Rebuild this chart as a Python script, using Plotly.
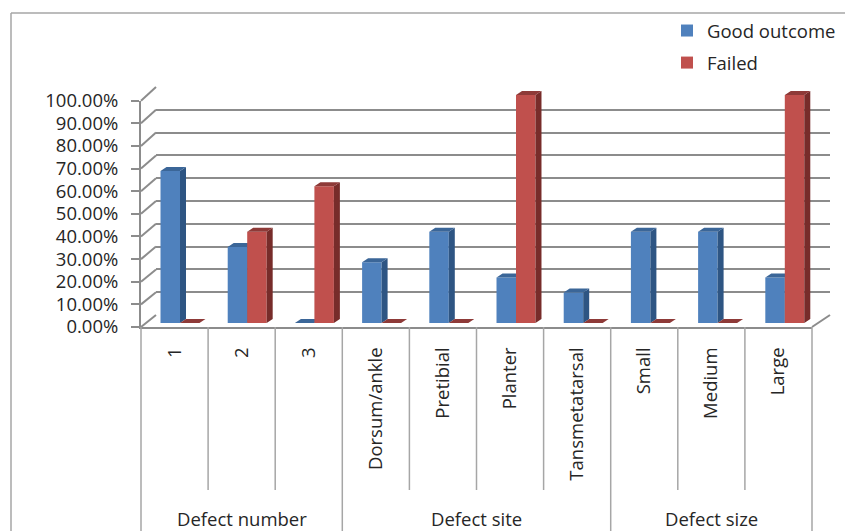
import plotly.graph_objects as go

W, H = 845, 531

# ---- data ----
categories = ["1", "2", "3", "Dorsum/ankle", "Pretibial", "Planter",
              "Tansmetatarsal", "Small", "Medium", "Large"]
group_names = ["Defect number", "Defect site", "Defect size"]
group_sizes = [3, 4, 3]
good_outcome = [66.67, 33.33, 0.0, 26.67, 40.0, 20.0, 13.33, 40.0, 40.0, 20.0]
failed = [0.0, 40.0, 60.0, 0.0, 0.0, 100.0, 0.0, 0.0, 0.0, 100.0]
y_ticks = list(range(0, 101, 10))

# ---- colours ----
BLUE, BLUE_SIDE, BLUE_TOP = "#4F81BD", "#2E5583", "#3B6698"
RED, RED_SIDE, RED_TOP = "#C0504D", "#772C2A", "#8E3A38"
GRID = "#8C8C8C"
FRAME = "#A6A6A6"
TEXT = "#262626"
FONT = "Open Sans"
FS = 18.5


def px(x):
    return x / W


def py(y):
    return 1 - y / H


n = len(categories)

# front plane (axis labels, floor edge): pixels
FX0, FX1 = 141, 812
FY0, FY100 = 327, 100.7
# back wall (gridlines)
BX0, BX1 = 156, 830
BY0, BY100 = 315, 87
# bar plane
BAR_CAT_PX = 67.2
BAR_X0 = 180 - 0.5 * BAR_CAT_PX
BAR_PX_PER = 2.28
BAR_ZERO = 323
Y2_RANGE = [-8, 110]

BW = 0.29                      # bar width in category units
DX = 6 / BAR_CAT_PX            # depth of bar side face (x units)
DY = 4 / BAR_PX_PER            # depth of bar top face (value units)


def box_faces(values, left_offset):
    side_x, side_y, top_x, top_y = [], [], [], []
    for i, v in enumerate(values):
        xl = i + left_offset
        xr = xl + BW
        side_x += [xr, xr + DX, xr + DX, xr, xr, None]
        side_y += [0, DY, v + DY, v, 0, None]
        top_x += [xl, xl + DX, xr + DX, xr, xl, None]
        top_y += [v, v + DY, v + DY, v, v, None]
    return side_x, side_y, top_x, top_y


fig = go.Figure()

# back wall gridlines live on the base subplot
fig.add_trace(go.Scatter(x=[0], y=[0], mode="markers", marker=dict(opacity=0),
                         hoverinfo="skip", showlegend=False, xaxis="x", yaxis="y"))

# Good outcome boxes
fig.add_trace(go.Bar(x=list(range(n)), y=good_outcome, name="Good outcome",
                     width=BW, offset=-BW, marker=dict(color=BLUE, line=dict(width=0)),
                     xaxis="x2", yaxis="y2", legendgroup="g", legendrank=1))
sx, sy, tx, ty = box_faces(good_outcome, -BW)
fig.add_trace(go.Scatter(x=sx, y=sy, fill="toself", fillcolor=BLUE_SIDE, mode="lines",
                         line=dict(width=0, color=BLUE_SIDE), hoverinfo="skip",
                         showlegend=False, xaxis="x2", yaxis="y2"))
fig.add_trace(go.Scatter(x=tx, y=ty, fill="toself", fillcolor=BLUE_TOP, mode="lines",
                         line=dict(width=0, color=BLUE_TOP), hoverinfo="skip",
                         showlegend=False, xaxis="x2", yaxis="y2"))

# Failed boxes (overlay subplot so they sit in front of the blue ones)
fig.add_trace(go.Bar(x=list(range(n)), y=failed, name="Failed",
                     width=BW, offset=0, marker=dict(color=RED, line=dict(width=0)),
                     xaxis="x4", yaxis="y4", legendgroup="f", legendrank=2))
sx, sy, tx, ty = box_faces(failed, 0)
fig.add_trace(go.Scatter(x=sx, y=sy, fill="toself", fillcolor=RED_SIDE, mode="lines",
                         line=dict(width=0, color=RED_SIDE), hoverinfo="skip",
                         showlegend=False, xaxis="x4", yaxis="y4"))
fig.add_trace(go.Scatter(x=tx, y=ty, fill="toself", fillcolor=RED_TOP, mode="lines",
                         line=dict(width=0, color=RED_TOP), hoverinfo="skip",
                         showlegend=False, xaxis="x4", yaxis="y4"))

# front axis carrying the labels
fig.add_trace(go.Scatter(x=[0], y=[0], mode="markers", marker=dict(opacity=0),
                         hoverinfo="skip", showlegend=False, xaxis="x3", yaxis="y3"))

y2_dom = [py(BAR_ZERO - Y2_RANGE[0] * BAR_PX_PER), py(BAR_ZERO - Y2_RANGE[1] * BAR_PX_PER)]
x2_dom = [px(BAR_X0), px(BAR_X0 + n * BAR_CAT_PX)]

hidden = dict(visible=False, fixedrange=True)

fig.update_layout(
    width=W, height=H,
    margin=dict(l=0, r=0, t=0, b=0, autoexpand=False),
    paper_bgcolor="white", plot_bgcolor="rgba(0,0,0,0)",
    font=dict(family=FONT, size=FS, color=TEXT),
    barmode="overlay",
    showlegend=True,
    legend=dict(x=px(667), y=py(12), xanchor="left", yanchor="top",
                bgcolor="rgba(0,0,0,0)", font=dict(size=FS, color=TEXT, family=FONT),
                traceorder="grouped", tracegroupgap=5, itemclick=False),
    xaxis=dict(domain=[px(BX0), px(BX1)], range=[0, 1], **hidden),
    yaxis=dict(domain=[py(BY0), py(BY100)], range=[0, 100], tickvals=y_ticks,
               showgrid=True, gridcolor=GRID, gridwidth=2, zeroline=False,
               showticklabels=False, ticks="", showline=False, fixedrange=True),
    xaxis2=dict(domain=x2_dom, range=[-0.5, n - 0.5], anchor="y2", **hidden),
    yaxis2=dict(domain=y2_dom, range=Y2_RANGE, anchor="x2", **hidden),
    xaxis4=dict(overlaying="x2", range=[-0.5, n - 0.5], anchor="y4", **hidden),
    yaxis4=dict(overlaying="y2", range=Y2_RANGE, anchor="x4", **hidden),
    xaxis3=dict(domain=[px(FX0), px(FX1)], range=[-0.5, n - 0.5], anchor="y3",
                tickmode="array", tickvals=list(range(n)), ticktext=categories,
                tickangle=-90, ticks="", showline=True, linecolor=GRID, linewidth=2,
                showgrid=False, zeroline=False, ticklabelstandoff=11,
                tickfont=dict(size=FS, color=TEXT, family=FONT), fixedrange=True),
    yaxis3=dict(domain=[py(FY0), py(FY100)], range=[0, 100], anchor="x3",
                tickmode="array", tickvals=y_ticks,
                ticktext=[f"{v:.2f}%" for v in y_ticks],
                ticks="outside", ticklen=8, tickwidth=2, tickcolor=GRID,
                showline=True, linecolor=GRID, linewidth=2, showgrid=False,
                zeroline=False, ticklabelstandoff=9,
                tickfont=dict(size=FS, color=TEXT, family=FONT), fixedrange=True),
)


def front_y(v):
    return FY0 - (FY0 - FY100) * v / 100


def back_y(v):
    return BY0 - (BY0 - BY100) * v / 100


shapes = []
# outer chart frame
shapes.append(dict(type="line", xref="paper", yref="paper", x0=px(11), x1=px(W + 2),
                   y0=py(13), y1=py(13), line=dict(color=FRAME, width=1.5)))
shapes.append(dict(type="line", xref="paper", yref="paper", x0=px(11), x1=px(11),
                   y0=py(13), y1=py(H + 2), line=dict(color=FRAME, width=1.5)))
# side wall: join front ticks to back wall gridlines
for v in y_ticks:
    shapes.append(dict(type="line", xref="paper", yref="paper",
                       x0=px(FX0), y0=py(front_y(v)), x1=px(BX0), y1=py(back_y(v)),
                       line=dict(color=GRID, width=2)))
# right edge of the floor
shapes.append(dict(type="line", xref="paper", yref="paper",
                   x0=px(FX1), y0=py(FY0), x1=px(BX1), y1=py(BY0),
                   line=dict(color=GRID, width=2)))

# category separators below the floor
cat_px = (FX1 - FX0) / n
group_edges = [0]
for s in group_sizes:
    group_edges.append(group_edges[-1] + s)
for k in range(n + 1):
    xk = FX0 + k * cat_px
    bottom = H + 2 if k in group_edges else 490
    shapes.append(dict(type="line", xref="paper", yref="paper",
                       x0=px(xk), x1=px(xk), y0=py(FY0), y1=py(bottom),
                       line=dict(color=FRAME, width=1.5)))
fig.update_layout(shapes=shapes)

# group labels
for g, name in enumerate(group_names):
    cx = FX0 + (group_edges[g] + group_edges[g + 1]) / 2 * cat_px
    fig.add_annotation(x=px(cx), y=py(518), xref="paper", yref="paper",
                       text=name, showarrow=False, xanchor="center", yanchor="middle",
                       font=dict(size=FS, color=TEXT, family=FONT))

fig.write_html("out.html")
